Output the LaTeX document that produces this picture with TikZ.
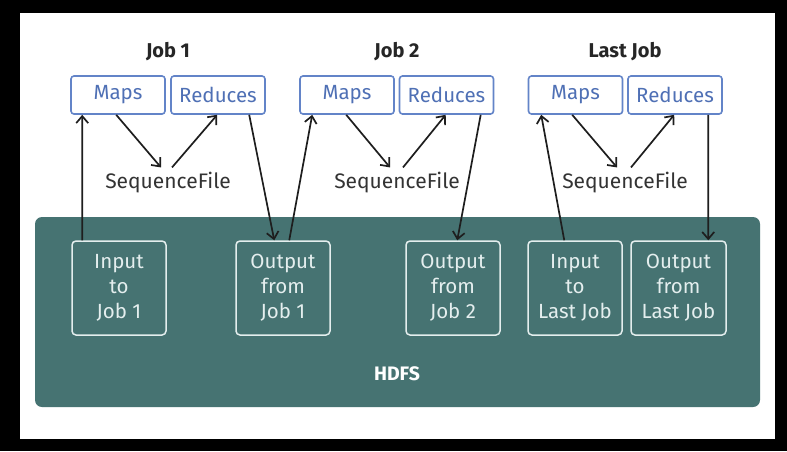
\documentclass[tikz,border=0pt]{standalone}
\usepackage{fontspec}
\setmainfont{Fira Sans}
\usetikzlibrary{arrows.meta}
\definecolor{teal1}{HTML}{467372}
\definecolor{boxblue}{HTML}{6384C8}
\definecolor{txtblue}{HTML}{4F70B5}
\definecolor{inner}{HTML}{E4EEEE}
\definecolor{arr}{HTML}{1E1E1E}
\tikzset{
  jobbox/.style={draw=boxblue, line width=1.6pt, fill=white, rounded corners=3pt,
    minimum width=94pt, minimum height=38pt, inner sep=0pt, text=txtblue,
    font=\fontsize{20.5}{24}\selectfont},
  hbox/.style={draw=inner, line width=1.5pt, rounded corners=4pt,
    minimum width=94pt, minimum height=94pt, inner sep=0pt, text=inner, align=center,
    font=\fontsize{20.5}{25}\selectfont},
  title/.style={font=\bfseries\fontsize{20}{22}\selectfont, text=black!85},
  seqf/.style={font=\fontsize{21}{24}\selectfont, text=black!80, inner sep=4pt, anchor=base},
  conn/.style={draw=arr, line width=1.7pt, -{Straight Barb[length=7pt,width=12pt,line width=1.7pt]}}
}
\begin{document}
\begin{tikzpicture}[x=1pt,y=-1pt]
\fill[black] (0,0) rectangle (787,451);
\useasboundingbox (0,0) rectangle (787,451);
\fill[white] (20,13) rectangle (775,439);
\node[fill=teal1, rounded corners=7pt, minimum width=725pt, minimum height=190pt, inner sep=0pt] (hdfs) at (397.5,312) {};
\node[font=\bfseries\fontsize{19.5}{22}\selectfont, text=white] (hdfsl) at (397,374) {HDFS};

\node[title] (t1) at (168,52) {Job 1};
\node[title] (t2) at (397,52) {Job 2};
\node[title] (t3) at (625,52) {Last Job};

\node[jobbox] (maps1) at (118,95) {Maps};
\node[jobbox] (red1) at (218,95) {Reduces};
\node[jobbox] (maps2) at (347,95) {Maps};
\node[jobbox] (red2) at (446.5,95) {Reduces};
\node[jobbox] (mapsL) at (575.5,95) {Maps};
\node[jobbox] (redL) at (675,95) {Reduces};

\node[seqf] (seq1) at (168,188) {SequenceFile};
\node[seqf] (seq2) at (397,188) {SequenceFile};
\node[seqf] (seqL) at (625,188) {SequenceFile};

\node[hbox] (in1) at (119,288) {Input\\to\\Job 1};
\node[hbox] (out1) at (283,288) {Output\\from\\Job 1};
\node[hbox] (out2) at (453,288) {Output\\from\\Job 2};
\node[hbox] (inL) at (575,288) {Input\\to\\Last Job};
\node[hbox, minimum width=95pt] (outL) at (678.5,288) {Output\\from\\Last Job};

% job 1
\draw[conn] ([xshift=11pt]in1.north west) -- ([xshift=12pt]maps1.south west);
\draw[conn] ([xshift=46pt]maps1.south west) -- ([xshift=-7pt]seq1.north);
\draw[conn] ([xshift=4pt]seq1.north) -- ([xshift=47pt]red1.south west);
\draw[conn] ([xshift=79pt]red1.south west) -- ([xshift=39pt]out1.north west);
% job 2
\draw[conn] ([xshift=54pt]out1.north west) -- ([xshift=13pt]maps2.south west);
\draw[conn] ([xshift=47pt]maps2.south west) -- ([xshift=-7pt]seq2.north);
\draw[conn] ([xshift=6pt]seq2.north) -- ([xshift=47pt]red2.south west);
\draw[conn] ([xshift=82pt]red2.south west) -- ([xshift=52pt]out2.north west);
% last job
\draw[conn] ([xshift=37pt]inL.north west) -- ([xshift=13.5pt]mapsL.south west);
\draw[conn] ([xshift=44.5pt]mapsL.south west) -- ([xshift=-8pt]seqL.north);
\draw[conn] ([xshift=6pt]seqL.north) -- ([xshift=47pt]redL.south west);
\draw[conn] ([xshift=81pt]redL.south west) -- ([xshift=78pt]outL.north west);
\end{tikzpicture}
\end{document}
